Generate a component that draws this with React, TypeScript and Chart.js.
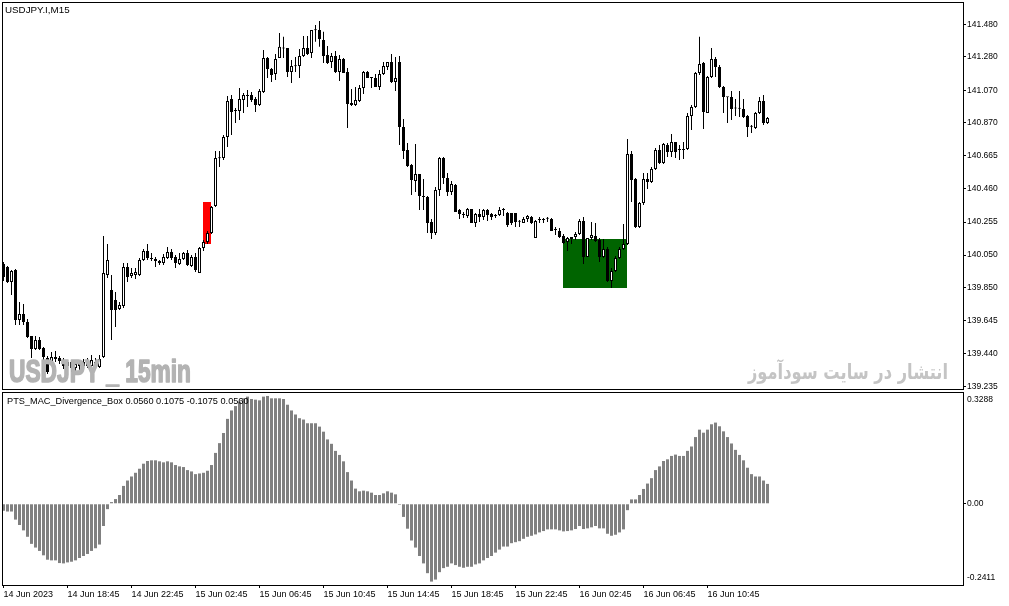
import { useEffect, useRef } from "react";
import { Chart, registerables, type ChartConfiguration, type Plugin } from "chart.js";

Chart.register(...registerables);

// open, high, low, close per 15 min bar (bar 0 = 14 Jun 14:45)
const candles: [number, number, number, number][] = [
  [139.995, 140.008, 139.890, 139.915], [139.977, 139.983, 139.877, 139.884], [139.884, 139.958, 139.803, 139.952],
  [139.958, 139.964, 139.617, 139.648], [139.648, 139.760, 139.617, 139.685], [139.685, 139.747, 139.617, 139.636],
  [139.636, 139.654, 139.536, 139.543], [139.549, 139.549, 139.412, 139.468], [139.468, 139.549, 139.462, 139.524],
  [139.524, 139.543, 139.462, 139.468], [139.474, 139.481, 139.400, 139.419], [139.412, 139.425, 139.313, 139.326],
  [139.381, 139.450, 139.369, 139.419], [139.406, 139.456, 139.388, 139.419], [139.412, 139.425, 139.375, 139.394],
  [139.400, 139.412, 139.344, 139.363], [139.363, 139.400, 139.307, 139.388], [139.388, 139.394, 139.326, 139.350],
  [139.350, 139.388, 139.319, 139.375], [139.375, 139.400, 139.338, 139.363], [139.363, 139.406, 139.344, 139.388],
  [139.388, 139.412, 139.350, 139.363], [139.363, 139.431, 139.350, 139.400], [139.388, 139.412, 139.338, 139.357],
  [139.357, 139.431, 139.350, 139.406], [139.419, 140.169, 139.412, 139.939], [139.927, 140.119, 139.908, 140.020],
  [139.834, 139.927, 139.524, 139.710], [139.772, 139.822, 139.605, 139.710], [139.716, 139.760, 139.710, 139.741],
  [139.735, 140.001, 139.722, 139.977], [139.977, 140.001, 139.884, 139.915], [139.921, 139.970, 139.908, 139.939],
  [139.927, 139.970, 139.902, 139.946], [139.927, 140.032, 139.921, 140.020], [140.020, 140.088, 140.014, 140.076],
  [140.076, 140.119, 140.020, 140.032], [140.032, 140.063, 140.014, 140.026], [140.026, 140.039, 139.977, 140.014],
  [140.014, 140.020, 139.989, 140.001], [140.001, 140.057, 139.989, 140.039], [140.032, 140.101, 140.026, 140.070],
  [140.070, 140.088, 140.020, 140.032], [140.039, 140.051, 139.970, 140.001], [139.995, 140.063, 139.989, 140.026],
  [140.026, 140.070, 140.020, 140.063], [140.063, 140.082, 139.983, 139.989], [139.983, 140.051, 139.977, 140.039],
  [140.039, 140.063, 139.946, 139.958], [139.939, 140.101, 139.939, 140.094], [140.094, 140.144, 140.076, 140.132],
  [140.132, 140.200, 140.119, 140.187], [140.187, 140.355, 140.181, 140.349], [140.355, 140.696, 140.349, 140.652],
  [140.650, 140.696, 140.597, 140.654], [140.652, 140.795, 140.640, 140.783], [140.783, 141.037, 140.721, 141.006],
  [141.018, 141.043, 140.795, 140.938], [140.944, 140.962, 140.869, 140.950], [140.944, 141.086, 140.888, 141.018],
  [141.012, 141.055, 140.931, 141.043], [141.037, 141.074, 140.969, 141.040], [141.043, 141.062, 141.000, 141.012],
  [141.018, 141.031, 140.938, 140.981], [140.981, 141.080, 140.975, 141.068], [141.062, 141.322, 141.055, 141.272],
  [141.272, 141.279, 141.148, 141.204], [141.204, 141.210, 141.124, 141.167], [141.173, 141.297, 141.136, 141.266],
  [141.272, 141.427, 141.272, 141.341], [141.331, 141.403, 141.272, 141.336], [141.334, 141.334, 141.155, 141.186],
  [141.186, 141.260, 141.117, 141.223], [141.221, 141.279, 141.186, 141.224], [141.223, 141.328, 141.148, 141.285],
  [141.285, 141.409, 141.279, 141.334], [141.334, 141.409, 141.291, 141.297], [141.303, 141.446, 141.272, 141.446],
  [141.444, 141.477, 141.372, 141.447], [141.446, 141.502, 141.341, 141.390], [141.384, 141.434, 141.241, 141.285],
  [141.291, 141.347, 141.235, 141.241], [141.248, 141.303, 141.210, 141.285], [141.285, 141.316, 141.179, 141.186],
  [141.186, 141.291, 141.130, 141.266], [141.266, 141.272, 141.179, 141.179], [141.186, 141.210, 140.838, 140.987],
  [140.993, 141.080, 140.975, 140.981], [140.981, 141.093, 140.975, 141.012], [141.006, 141.105, 141.000, 141.086],
  [141.086, 141.192, 141.049, 141.186], [141.186, 141.192, 141.148, 141.148], [141.155, 141.155, 141.086, 141.148],
  [141.148, 141.173, 141.093, 141.093], [141.093, 141.198, 141.074, 141.173], [141.173, 141.248, 141.167, 141.223],
  [141.217, 141.248, 141.198, 141.248], [141.248, 141.297, 141.117, 141.124], [141.124, 141.279, 141.068, 141.148],
  [141.248, 141.285, 140.733, 140.845], [140.845, 140.894, 140.646, 140.696], [140.702, 140.745, 140.597, 140.603],
  [140.609, 140.615, 140.423, 140.516], [140.510, 140.739, 140.442, 140.553], [140.553, 140.553, 140.330, 140.417],
  [140.417, 140.522, 140.330, 140.411], [140.411, 140.417, 140.187, 140.249], [140.256, 140.274, 140.150, 140.187],
  [140.187, 140.473, 140.175, 140.454], [140.454, 140.659, 140.417, 140.652], [140.652, 140.659, 140.491, 140.528],
  [140.528, 140.559, 140.417, 140.442], [140.442, 140.510, 140.423, 140.491], [140.485, 140.491, 140.318, 140.318],
  [140.330, 140.336, 140.274, 140.305], [140.305, 140.318, 140.280, 140.299], [140.293, 140.342, 140.280, 140.336],
  [140.336, 140.336, 140.249, 140.249], [140.249, 140.311, 140.225, 140.305], [140.305, 140.336, 140.256, 140.287],
  [140.287, 140.336, 140.268, 140.330], [140.330, 140.336, 140.262, 140.299], [140.305, 140.311, 140.268, 140.287],
  [140.292, 140.305, 140.280, 140.294], [140.299, 140.349, 140.293, 140.330], [140.329, 140.342, 140.293, 140.331],
  [140.311, 140.318, 140.225, 140.237], [140.311, 140.311, 140.237, 140.249], [140.311, 140.311, 140.225, 140.256],
  [140.257, 140.268, 140.225, 140.258], [140.249, 140.287, 140.249, 140.274], [140.274, 140.299, 140.256, 140.293],
  [140.287, 140.293, 140.243, 140.249], [140.156, 140.268, 140.156, 140.262], [140.267, 140.287, 140.249, 140.268],
  [140.267, 140.280, 140.249, 140.268], [140.275, 140.287, 140.256, 140.277], [140.274, 140.280, 140.200, 140.200],
  [140.205, 140.225, 140.175, 140.206], [140.200, 140.218, 140.156, 140.163], [140.169, 140.181, 140.119, 140.125],
  [140.132, 140.163, 140.076, 140.156], [140.150, 140.163, 140.119, 140.163], [140.163, 140.194, 140.144, 140.181],
  [140.181, 140.274, 140.175, 140.262], [140.262, 140.287, 139.995, 140.039], [140.039, 140.156, 140.039, 140.156],
  [140.156, 140.256, 140.144, 140.175], [140.169, 140.249, 140.132, 140.138], [140.144, 140.156, 140.008, 140.039],
  [140.039, 140.150, 140.032, 140.088], [140.088, 140.101, 139.884, 139.890], [139.890, 139.970, 139.846, 139.952],
  [139.952, 140.045, 139.946, 140.032], [140.032, 140.101, 140.026, 140.088], [140.088, 140.243, 140.082, 140.119],
  [140.119, 140.770, 140.113, 140.677], [140.677, 140.696, 140.380, 140.516], [140.522, 140.528, 140.218, 140.225],
  [140.225, 140.380, 140.218, 140.373], [140.373, 140.559, 140.361, 140.522], [140.522, 140.559, 140.460, 140.504],
  [140.504, 140.597, 140.497, 140.584], [140.584, 140.714, 140.578, 140.702], [140.702, 140.733, 140.615, 140.621],
  [140.621, 140.745, 140.615, 140.739], [140.733, 140.745, 140.659, 140.690], [140.690, 140.801, 140.659, 140.752],
  [140.752, 140.752, 140.652, 140.690], [140.701, 140.733, 140.640, 140.702], [140.701, 140.752, 140.646, 140.702],
  [140.708, 140.931, 140.702, 140.913], [140.913, 140.981, 140.826, 140.969], [140.969, 141.186, 140.962, 141.179],
  [141.179, 141.403, 141.167, 141.235], [141.241, 141.248, 140.832, 140.938], [140.931, 141.161, 140.931, 141.155],
  [141.155, 141.334, 141.148, 141.266], [141.266, 141.279, 141.155, 141.217], [141.217, 141.229, 141.086, 141.093],
  [141.093, 141.099, 140.931, 141.031], [141.029, 141.031, 140.869, 141.030], [141.031, 141.068, 140.888, 140.956],
  [140.959, 141.018, 140.913, 140.961], [140.957, 141.068, 140.907, 140.959], [140.956, 141.018, 140.900, 140.907],
  [140.913, 140.919, 140.783, 140.845], [140.846, 140.857, 140.807, 140.848], [140.838, 140.938, 140.832, 140.931],
  [140.931, 141.031, 140.925, 141.006], [141.006, 141.043, 140.857, 140.869], [140.869, 140.907, 140.863, 140.900],
];

// PTS_MAC_Divergence_Box histogram, one value per bar
const macd = [
  -0.021, -0.023, -0.023, -0.047, -0.063, -0.079, -0.098, -0.119, -0.130, -0.140,
  -0.153, -0.166, -0.168, -0.168, -0.176, -0.177, -0.174, -0.172, -0.168, -0.161,
  -0.155, -0.149, -0.140, -0.132, -0.121, -0.066, -0.016, 0.005, 0.014, 0.026,
  0.053, 0.069, 0.081, 0.092, 0.104, 0.119, 0.127, 0.129, 0.129, 0.126,
  0.123, 0.126, 0.123, 0.115, 0.111, 0.109, 0.100, 0.096, 0.088, 0.090,
  0.092, 0.098, 0.115, 0.151, 0.180, 0.210, 0.252, 0.277, 0.290, 0.303,
  0.313, 0.318, 0.311, 0.309, 0.307, 0.318, 0.320, 0.313, 0.313, 0.313,
  0.311, 0.294, 0.277, 0.265, 0.254, 0.250, 0.239, 0.239, 0.239, 0.229,
  0.214, 0.191, 0.178, 0.157, 0.145, 0.126, 0.094, 0.069, 0.045, 0.037,
  0.039, 0.037, 0.033, 0.026, 0.026, 0.031, 0.037, 0.033, 0.028, -0.003,
  -0.039, -0.074, -0.109, -0.130, -0.155, -0.177, -0.206, -0.231, -0.225, -0.203,
  -0.191, -0.187, -0.177, -0.182, -0.187, -0.190, -0.187, -0.187, -0.180, -0.177,
  -0.168, -0.161, -0.155, -0.145, -0.136, -0.127, -0.127, -0.117, -0.114, -0.111,
  -0.104, -0.098, -0.095, -0.091, -0.085, -0.081, -0.076, -0.076, -0.076, -0.079,
  -0.082, -0.081, -0.079, -0.075, -0.066, -0.075, -0.073, -0.070, -0.066, -0.073,
  -0.073, -0.089, -0.095, -0.092, -0.085, -0.076, -0.019, 0.013, 0.013, 0.026,
  0.044, 0.060, 0.076, 0.100, 0.111, 0.127, 0.132, 0.142, 0.146, 0.142,
  0.142, 0.157, 0.170, 0.198, 0.220, 0.211, 0.220, 0.236, 0.241, 0.230,
  0.215, 0.198, 0.179, 0.160, 0.145, 0.129, 0.107, 0.088, 0.081, 0.081,
  0.069, 0.059,
];

const priceTicks = [141.48, 141.28, 141.07, 140.87, 140.665, 140.46, 140.255, 140.05, 139.85, 139.645, 139.44, 139.235];
const timeTickBars = [0, 16, 32, 48, 64, 80, 96, 112, 128, 144, 160, 176];
const timeLabels = [
  "14 Jun 2023", "14 Jun 18:45", "14 Jun 22:45", "15 Jun 02:45", "15 Jun 06:45", "15 Jun 10:45",
  "15 Jun 14:45", "15 Jun 18:45", "15 Jun 22:45", "16 Jun 02:45", "16 Jun 06:45", "16 Jun 10:45",
];

// divergence boxes: [from bar, to bar, low price, high price]
const redBox = [49.9, 51.9, 140.119, 140.38];
const greenBox = [139.9, 155.9, 139.846, 140.15];

const PRICE_MIN = 139.22;
const PRICE_MAX = 141.613;
const MACD_MIN = -0.2411;
const MACD_MAX = 0.3288;
// 240 bar slots fit the window, the data fills the first 192
const SLOT_MIN = -0.125;
const SLOT_MAX = 239.875;

const FONT = "'Liberation Sans', Arial, sans-serif";
Chart.defaults.font.family = FONT;
Chart.defaults.color = "#000";

// keep tick labels from pushing the plot area inward
function noPadding(scale: any) {
  scale.paddingLeft = 0;
  scale.paddingRight = 0;
  scale.paddingTop = 0;
  scale.paddingBottom = 0;
}

const framePlugin: Plugin = {
  id: "frame",
  afterDraw(chart) {
    const { ctx, chartArea: a } = chart;
    ctx.save();
    ctx.strokeStyle = "#000";
    ctx.lineWidth = 1;
    ctx.strokeRect(a.left - 0.5, a.top - 0.5, a.right - a.left + 1, a.bottom - a.top + 1);
    ctx.restore();
  },
};

function fillFitted(
  ctx: CanvasRenderingContext2D,
  text: string,
  x: number,
  y: number,
  width: number,
  rightAligned: boolean,
  stroke = 0,
) {
  const w = ctx.measureText(text).width;
  ctx.save();
  ctx.translate(x, y);
  ctx.scale(width / w, 1);
  ctx.textAlign = "left";
  const left = rightAligned ? -w : 0;
  ctx.fillText(text, left, 0);
  if (stroke > 0) {
    ctx.lineWidth = stroke;
    ctx.lineJoin = "round";
    ctx.strokeStyle = ctx.fillStyle;
    ctx.strokeText(text, left, 0);
  }
  ctx.restore();
}

const boxPlugin: Plugin = {
  id: "boxes",
  beforeDatasetsDraw(chart) {
    const { ctx } = chart;
    const xs = chart.scales.x;
    const ys = chart.scales.y;
    const draw = (box: number[], color: string) => {
      const x0 = Math.round(xs.getPixelForValue(box[0]));
      const x1 = Math.round(xs.getPixelForValue(box[1]));
      const y0 = Math.round(ys.getPixelForValue(box[3]));
      const y1 = Math.round(ys.getPixelForValue(box[2]));
      ctx.fillStyle = color;
      ctx.fillRect(x0, y0, x1 - x0, y1 - y0);
    };
    ctx.save();
    draw(redBox, "#ff0000");
    draw(greenBox, "#006400");
    ctx.restore();
  },
};

const priceOverlay: Plugin = {
  id: "priceOverlay",
  afterDatasetsDraw(chart) {
    const { ctx } = chart;
    ctx.save();
    ctx.textBaseline = "alphabetic";
    ctx.fillStyle = "#b3b3b3";
    ctx.font = `bold 31px ${FONT}`;
    fillFitted(ctx, "USDJPY _ 15min", 9, 381.5, 182, false, 1.6);
    ctx.fillStyle = "#c4c4c4";
    ctx.font = "bold 21px 'DejaVu Sans', sans-serif";
    fillFitted(ctx, "انتشار در سایت سودآموز", 948, 379, 200, true);
    ctx.fillStyle = "#000";
    ctx.font = `9.8px ${FONT}`;
    ctx.textBaseline = "middle";
    ctx.textAlign = "left";
    ctx.fillText("USDJPY.I,M15", 5, 10);
    ctx.restore();
  },
};

const macdOverlay: Plugin = {
  id: "macdOverlay",
  afterDatasetsDraw(chart) {
    const { ctx, chartArea } = chart;
    const ys = chart.scales.y;
    ctx.save();
    ctx.fillStyle = "#000";
    ctx.textBaseline = "middle";
    ctx.textAlign = "left";
    ctx.font = `9.2px ${FONT}`;
    ctx.fillText("PTS_MAC_Divergence_Box 0.0560 0.1075 -0.1075 0.0560", 7, 11);
    ctx.font = `8.5px ${FONT}`;
    ctx.fillText(MACD_MAX.toFixed(4), chartArea.right + 4, ys.getPixelForValue(MACD_MAX) + 6.5);
    ctx.fillText(MACD_MIN.toFixed(4), chartArea.right + 4, ys.getPixelForValue(MACD_MIN) - 7);
    ctx.restore();
  },
};

const priceConfig: ChartConfiguration<"bar"> = {
  type: "bar",
  data: {
    datasets: [
      {
        label: "body",
        data: candles.map(([o, , , c], i) => ({ x: i, y: [o, c] })) as any,
        backgroundColor: candles.map(([o, , , c]) => (c >= o ? "#ffffff" : "#000000")),
        borderColor: "#000000",
        borderWidth: 1,
        borderSkipped: false,
        barThickness: 3,
        minBarLength: 1,
        grouped: false,
        inflateAmount: 0,
        order: 0,
      },
      {
        label: "wick",
        data: candles.map(([, h, l], i) => ({ x: i, y: [l, h] })) as any,
        backgroundColor: "#000000",
        borderWidth: 0,
        barThickness: 1,
        grouped: false,
        inflateAmount: 0,
        order: 1,
      },
    ],
  },
  options: {
    animation: false,
    responsive: false,
    events: [],
    layout: { autoPadding: false, padding: { left: 3, top: 3, right: 0, bottom: 1 } },
    plugins: { legend: { display: false }, tooltip: { enabled: false } },
    scales: {
      x: {
        type: "linear",
        min: SLOT_MIN,
        max: SLOT_MAX,
        offset: false,
        display: false,
        afterFit: noPadding,
      },
      y: {
        position: "right",
        min: PRICE_MIN,
        max: PRICE_MAX,
        afterFit(scale) {
          scale.width = 46;
          noPadding(scale);
        },
        afterBuildTicks(scale) {
          scale.ticks = priceTicks.map((value) => ({ value }));
        },
        ticks: {
          autoSkip: false,
          padding: 1,
          color: "#000",
          font: { size: 8.5 },
          callback: (value) => Number(value).toFixed(3),
        },
        grid: { drawOnChartArea: false, drawTicks: true, tickLength: 3, color: "#000" },
        border: { display: false },
      },
    },
  },
  plugins: [boxPlugin, priceOverlay, framePlugin],
};

const macdConfig: ChartConfiguration<"bar"> = {
  type: "bar",
  data: {
    datasets: [
      {
        label: "PTS_MAC_Divergence_Box",
        data: macd.map((v, i) => ({ x: i, y: v })) as any,
        backgroundColor: "#808080",
        borderWidth: 0,
        barThickness: 3,
        grouped: false,
        inflateAmount: 0,
      },
    ],
  },
  options: {
    animation: false,
    responsive: false,
    events: [],
    layout: { autoPadding: false, padding: { left: 3, top: 3, right: 0, bottom: 0 } },
    plugins: { legend: { display: false }, tooltip: { enabled: false } },
    scales: {
      x: {
        type: "linear",
        min: SLOT_MIN,
        max: SLOT_MAX,
        offset: false,
        afterFit(scale) {
          scale.height = 21;
          noPadding(scale);
        },
        afterBuildTicks(scale) {
          scale.ticks = timeTickBars.map((value) => ({ value }));
        },
        ticks: {
          autoSkip: false,
          align: "start",
          maxRotation: 0,
          minRotation: 0,
          padding: 1,
          color: "#000",
          font: { size: 9 },
          callback: (_value, index) => timeLabels[index],
        },
        grid: { offset: false, drawOnChartArea: false, drawTicks: true, tickLength: 3, color: "#000" },
        border: { display: false },
      },
      y: {
        position: "right",
        min: MACD_MIN,
        max: MACD_MAX,
        afterFit(scale) {
          scale.width = 46;
          noPadding(scale);
        },
        afterBuildTicks(scale) {
          scale.ticks = [{ value: 0 }];
        },
        ticks: {
          autoSkip: false,
          padding: 1,
          color: "#000",
          font: { size: 8.5 },
          callback: (value) => Number(value).toFixed(2),
        },
        grid: { drawOnChartArea: false, drawTicks: true, tickLength: 3, color: "#000" },
        border: { display: false },
      },
    },
  },
  plugins: [macdOverlay, framePlugin],
};

export default function App() {
  const priceRef = useRef<HTMLCanvasElement | null>(null);
  const macdRef = useRef<HTMLCanvasElement | null>(null);

  useEffect(() => {
    if (!priceRef.current || !macdRef.current) {
      return;
    }
    const priceChart = new Chart(priceRef.current, priceConfig);
    const macdChart = new Chart(macdRef.current, macdConfig);
    return () => {
      priceChart.destroy();
      macdChart.destroy();
    };
  }, []);

  return (
    <div style={{ position: "fixed", left: 0, top: 0, width: 1009, height: 606, background: "#fff", overflow: "hidden" }}>
      <canvas ref={priceRef} width={1009} height={390} style={{ position: "absolute", left: 0, top: 0 }} />
      <canvas ref={macdRef} width={1009} height={216} style={{ position: "absolute", left: 0, top: 390 }} />
    </div>
  );
}
